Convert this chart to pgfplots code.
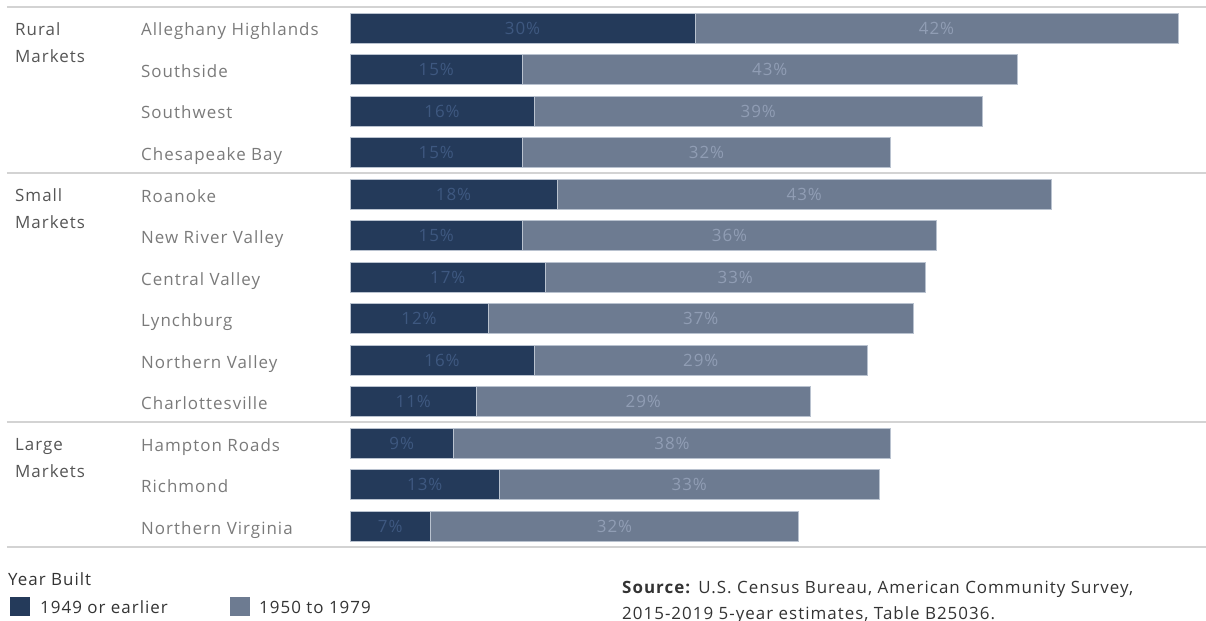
\documentclass[border=0pt]{standalone}
\usepackage{pgfplots}
\usepackage{pgfplotstable}
\pgfplotsset{compat=1.18}
\usepackage{fontspec}
\setmainfont{Open Sans}[LetterSpace=6]
\definecolor{darkbar}{HTML}{243A5A}
\definecolor{lightbar}{HTML}{6D7B91}
\definecolor{baredge}{HTML}{B9C2CF}
\definecolor{darklbl}{HTML}{3E5880}
\definecolor{lightlbl}{HTML}{909DB4}
\definecolor{catgray}{HTML}{7A7A7A}
\definecolor{grpgray}{HTML}{555555}
\definecolor{sepgray}{HTML}{D3D3D3}
\definecolor{txtdark}{HTML}{333333}

\pgfplotstableread{
idx d l
0 30 42
1 15 43
2 16 39
3 15 32
4 18 43
5 15 36
6 17 33
7 12 37
8 16 29
9 11 29
10 9 38
11 13 33
12 7 32
}\data
\pgfplotstablecreatecol[create col/expr={\thisrow{d}+\thisrow{l}}]{tot}\data
\pgfplotstablecreatecol[create col/expr={\thisrow{d}/2}]{cd}\data
\pgfplotstablecreatecol[create col/expr={\thisrow{d}+\thisrow{l}/2}]{cl}\data

\begin{document}
\begin{tikzpicture}
\useasboundingbox (-350bp,-74bp) rectangle (856bp,547bp);
\begin{axis}[
  scale only axis, width=851bp, height=539.5bp,
  xmin=0, xmax=74, ymin=-0.5, ymax=12.5, y dir=reverse,
  hide axis, clip=false,
  /pgf/number format/assume math mode=true,
]
\addplot[xbar, bar width=30bp, bar shift=0pt, fill=lightbar, draw=baredge, line width=0.6bp] table[x=tot, y=idx] {\data};
\addplot[xbar, bar width=30bp, bar shift=0pt, fill=darkbar, draw=baredge, line width=0.6bp] table[x=d, y=idx] {\data};
\addplot[only marks, mark=none, point meta=explicit,
  nodes near coords={\pgfmathprintnumber{\pgfplotspointmeta}\%},
  every node near coord/.append style={anchor=center, text=darklbl, font=\fontsize{17}{20}\selectfont}]
  table[x=cd, y=idx, meta=d] {\data};
\addplot[only marks, mark=none, point meta=explicit,
  nodes near coords={\pgfmathprintnumber{\pgfplotspointmeta}\%},
  every node near coord/.append style={anchor=center, text=lightlbl, font=\fontsize{17}{20}\selectfont}]
  table[x=cl, y=idx, meta=l] {\data};
\end{axis}
% separators
\foreach \yy in {540,374,125,0} \draw[sepgray, line width=1.5bp] (-343bp,\yy bp) -- (856bp,\yy bp);
% category labels
\begin{scope}[every node/.style={anchor=base west, inner sep=0pt, text=catgray, font=\fontsize{17}{20}\selectfont}]
\foreach \t [count=\i from 0] in {Alleghany Highlands,Southside,Southwest,Chesapeake Bay,Roanoke,New River Valley,Central Valley,Lynchburg,Northern Valley,Charlottesville,Hampton Roads,Richmond,Northern Virginia}
  \node at (-209bp, {(511-41.5*\i)*1bp}) {\t};
\end{scope}
% group labels
\begin{scope}[every node/.style={anchor=base west, inner sep=0pt, text=grpgray, font=\fontsize{17}{20}\selectfont}]
\node at (-335bp, 511bp) {Rural};
\node at (-335bp, 484bp) {Markets};
\node at (-335bp, 345bp) {Small};
\node at (-335bp, 318bp) {Markets};
\node at (-335bp, 96bp) {Large};
\node at (-335bp, 69bp) {Markets};
\end{scope}
% legend
\begin{scope}[every node/.style={anchor=base west, inner sep=0pt, text=txtdark, font=\fontsize{17}{20}\selectfont}]
\node at (-342bp, -38bp) {Year Built};
\fill[darkbar] (-340bp,-50bp) rectangle (-320bp,-69bp);
\node at (-310bp, -66bp) {1949 or earlier};
\fill[lightbar] (-120bp,-50bp) rectangle (-100bp,-69bp);
\node at (-91bp, -66bp) {1950 to 1979};
\node at (272bp, -46bp) {\textbf{Source:} U.S. Census Bureau, American Community Survey,};
\node at (272bp, -72bp) {2015-2019 5-year estimates, Table B25036.};
\end{scope}
\end{tikzpicture}
\end{document}
